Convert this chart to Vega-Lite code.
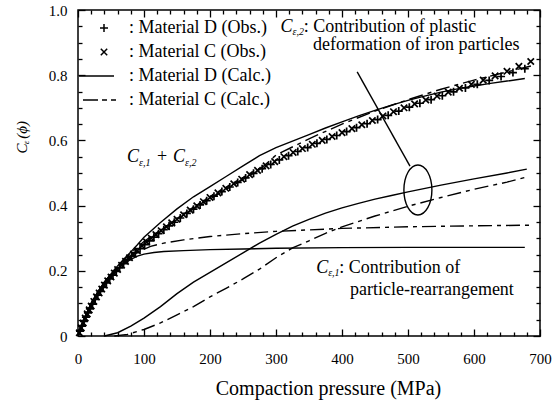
{
  "$schema": "https://vega.github.io/schema/vega-lite/v6.json",
  "width": 462,
  "height": 326,
  "autosize": {"type": "none"},
  "padding": {"left": 78, "top": 10, "right": 20, "bottom": 68},
  "background": "white",
  "config": {
    "view": {"stroke": "black", "strokeWidth": 1.5},
    "font": "'Liberation Serif', serif",
    "axis": {
      "grid": false,
      "domain": false,
      "labelFont": "'Liberation Serif', serif",
      "labelFontSize": 15,
      "labelColor": "black",
      "tickColor": "black",
      "tickWidth": 1.3,
      "titleFont": "'Liberation Serif', serif",
      "titleFontWeight": "normal",
      "titleColor": "black",
      "labelOverlap": false,
      "labelFlush": false,
      "labelBound": false
    },
    "legend": {"labelFont": "'Liberation Serif', serif"},
    "text": {"font": "'Liberation Serif', serif", "color": "black"}
  },
  "datasets": {
    "calc": [
      {"curve": "D total", "style": "solid", "p": 0, "c": 0},
      {"curve": "D total", "style": "solid", "p": 10, "c": 0.055},
      {"curve": "D total", "style": "solid", "p": 20, "c": 0.1},
      {"curve": "D total", "style": "solid", "p": 30, "c": 0.135},
      {"curve": "D total", "style": "solid", "p": 40, "c": 0.165},
      {"curve": "D total", "style": "solid", "p": 50, "c": 0.19},
      {"curve": "D total", "style": "solid", "p": 60, "c": 0.215},
      {"curve": "D total", "style": "solid", "p": 70, "c": 0.237},
      {"curve": "D total", "style": "solid", "p": 80, "c": 0.258},
      {"curve": "D total", "style": "solid", "p": 90, "c": 0.28},
      {"curve": "D total", "style": "solid", "p": 100, "c": 0.303},
      {"curve": "D total", "style": "solid", "p": 125, "c": 0.348},
      {"curve": "D total", "style": "solid", "p": 150, "c": 0.39},
      {"curve": "D total", "style": "solid", "p": 175, "c": 0.427},
      {"curve": "D total", "style": "solid", "p": 200, "c": 0.458},
      {"curve": "D total", "style": "solid", "p": 225, "c": 0.49},
      {"curve": "D total", "style": "solid", "p": 250, "c": 0.522},
      {"curve": "D total", "style": "solid", "p": 275, "c": 0.553},
      {"curve": "D total", "style": "solid", "p": 300, "c": 0.578},
      {"curve": "D total", "style": "solid", "p": 325, "c": 0.598},
      {"curve": "D total", "style": "solid", "p": 350, "c": 0.618},
      {"curve": "D total", "style": "solid", "p": 375, "c": 0.638},
      {"curve": "D total", "style": "solid", "p": 400, "c": 0.657},
      {"curve": "D total", "style": "solid", "p": 425, "c": 0.675},
      {"curve": "D total", "style": "solid", "p": 450, "c": 0.692},
      {"curve": "D total", "style": "solid", "p": 475, "c": 0.708},
      {"curve": "D total", "style": "solid", "p": 500, "c": 0.723},
      {"curve": "D total", "style": "solid", "p": 525, "c": 0.736},
      {"curve": "D total", "style": "solid", "p": 550, "c": 0.748},
      {"curve": "D total", "style": "solid", "p": 575, "c": 0.758},
      {"curve": "D total", "style": "solid", "p": 600, "c": 0.767},
      {"curve": "D total", "style": "solid", "p": 625, "c": 0.775},
      {"curve": "D total", "style": "solid", "p": 650, "c": 0.782},
      {"curve": "D total", "style": "solid", "p": 677, "c": 0.79},

      {"curve": "D C1", "style": "solid", "p": 0, "c": 0},
      {"curve": "D C1", "style": "solid", "p": 10, "c": 0.055},
      {"curve": "D C1", "style": "solid", "p": 20, "c": 0.1},
      {"curve": "D C1", "style": "solid", "p": 30, "c": 0.135},
      {"curve": "D C1", "style": "solid", "p": 40, "c": 0.165},
      {"curve": "D C1", "style": "solid", "p": 50, "c": 0.188},
      {"curve": "D C1", "style": "solid", "p": 60, "c": 0.207},
      {"curve": "D C1", "style": "solid", "p": 70, "c": 0.222},
      {"curve": "D C1", "style": "solid", "p": 80, "c": 0.235},
      {"curve": "D C1", "style": "solid", "p": 90, "c": 0.245},
      {"curve": "D C1", "style": "solid", "p": 100, "c": 0.251},
      {"curve": "D C1", "style": "solid", "p": 115, "c": 0.256},
      {"curve": "D C1", "style": "solid", "p": 130, "c": 0.259},
      {"curve": "D C1", "style": "solid", "p": 160, "c": 0.262},
      {"curve": "D C1", "style": "solid", "p": 200, "c": 0.265},
      {"curve": "D C1", "style": "solid", "p": 250, "c": 0.267},
      {"curve": "D C1", "style": "solid", "p": 300, "c": 0.269},
      {"curve": "D C1", "style": "solid", "p": 400, "c": 0.271},
      {"curve": "D C1", "style": "solid", "p": 500, "c": 0.272},
      {"curve": "D C1", "style": "solid", "p": 600, "c": 0.272},
      {"curve": "D C1", "style": "solid", "p": 677, "c": 0.272},

      {"curve": "D C2", "style": "solid", "p": 40, "c": 0},
      {"curve": "D C2", "style": "solid", "p": 60, "c": 0.01},
      {"curve": "D C2", "style": "solid", "p": 80, "c": 0.03},
      {"curve": "D C2", "style": "solid", "p": 100, "c": 0.055},
      {"curve": "D C2", "style": "solid", "p": 125, "c": 0.09},
      {"curve": "D C2", "style": "solid", "p": 150, "c": 0.13},
      {"curve": "D C2", "style": "solid", "p": 175, "c": 0.165},
      {"curve": "D C2", "style": "solid", "p": 200, "c": 0.195},
      {"curve": "D C2", "style": "solid", "p": 225, "c": 0.225},
      {"curve": "D C2", "style": "solid", "p": 250, "c": 0.255},
      {"curve": "D C2", "style": "solid", "p": 275, "c": 0.285},
      {"curve": "D C2", "style": "solid", "p": 300, "c": 0.312},
      {"curve": "D C2", "style": "solid", "p": 325, "c": 0.337},
      {"curve": "D C2", "style": "solid", "p": 350, "c": 0.358},
      {"curve": "D C2", "style": "solid", "p": 375, "c": 0.377},
      {"curve": "D C2", "style": "solid", "p": 400, "c": 0.393},
      {"curve": "D C2", "style": "solid", "p": 425, "c": 0.407},
      {"curve": "D C2", "style": "solid", "p": 450, "c": 0.42},
      {"curve": "D C2", "style": "solid", "p": 475, "c": 0.431},
      {"curve": "D C2", "style": "solid", "p": 500, "c": 0.442},
      {"curve": "D C2", "style": "solid", "p": 550, "c": 0.463},
      {"curve": "D C2", "style": "solid", "p": 600, "c": 0.482},
      {"curve": "D C2", "style": "solid", "p": 650, "c": 0.5},
      {"curve": "D C2", "style": "solid", "p": 680, "c": 0.512},

      {"curve": "C total", "style": "dash", "p": 0, "c": 0},
      {"curve": "C total", "style": "dash", "p": 10, "c": 0.055},
      {"curve": "C total", "style": "dash", "p": 20, "c": 0.1},
      {"curve": "C total", "style": "dash", "p": 40, "c": 0.165},
      {"curve": "C total", "style": "dash", "p": 60, "c": 0.215},
      {"curve": "C total", "style": "dash", "p": 80, "c": 0.255},
      {"curve": "C total", "style": "dash", "p": 100, "c": 0.29},
      {"curve": "C total", "style": "dash", "p": 125, "c": 0.325},
      {"curve": "C total", "style": "dash", "p": 150, "c": 0.358},
      {"curve": "C total", "style": "dash", "p": 175, "c": 0.39},
      {"curve": "C total", "style": "dash", "p": 200, "c": 0.42},
      {"curve": "C total", "style": "dash", "p": 225, "c": 0.45},
      {"curve": "C total", "style": "dash", "p": 250, "c": 0.48},
      {"curve": "C total", "style": "dash", "p": 275, "c": 0.51},
      {"curve": "C total", "style": "dash", "p": 300, "c": 0.555},
      {"curve": "C total", "style": "dash", "p": 350, "c": 0.605},
      {"curve": "C total", "style": "dash", "p": 400, "c": 0.65},
      {"curve": "C total", "style": "dash", "p": 450, "c": 0.69},
      {"curve": "C total", "style": "dash", "p": 500, "c": 0.725},
      {"curve": "C total", "style": "dash", "p": 550, "c": 0.757},
      {"curve": "C total", "style": "dash", "p": 600, "c": 0.785},
      {"curve": "C total", "style": "dash", "p": 650, "c": 0.81},
      {"curve": "C total", "style": "dash", "p": 690, "c": 0.83},

      {"curve": "C C1", "style": "dash", "p": 0, "c": 0},
      {"curve": "C C1", "style": "dash", "p": 10, "c": 0.055},
      {"curve": "C C1", "style": "dash", "p": 20, "c": 0.1},
      {"curve": "C C1", "style": "dash", "p": 40, "c": 0.165},
      {"curve": "C C1", "style": "dash", "p": 60, "c": 0.21},
      {"curve": "C C1", "style": "dash", "p": 80, "c": 0.245},
      {"curve": "C C1", "style": "dash", "p": 95, "c": 0.262},
      {"curve": "C C1", "style": "dash", "p": 110, "c": 0.275},
      {"curve": "C C1", "style": "dash", "p": 130, "c": 0.285},
      {"curve": "C C1", "style": "dash", "p": 160, "c": 0.295},
      {"curve": "C C1", "style": "dash", "p": 200, "c": 0.305},
      {"curve": "C C1", "style": "dash", "p": 250, "c": 0.314},
      {"curve": "C C1", "style": "dash", "p": 300, "c": 0.321},
      {"curve": "C C1", "style": "dash", "p": 400, "c": 0.33},
      {"curve": "C C1", "style": "dash", "p": 500, "c": 0.335},
      {"curve": "C C1", "style": "dash", "p": 600, "c": 0.338},
      {"curve": "C C1", "style": "dash", "p": 690, "c": 0.34},

      {"curve": "C C2", "style": "dash", "p": 55, "c": 0},
      {"curve": "C C2", "style": "dash", "p": 75, "c": 0.005},
      {"curve": "C C2", "style": "dash", "p": 100, "c": 0.02},
      {"curve": "C C2", "style": "dash", "p": 125, "c": 0.04},
      {"curve": "C C2", "style": "dash", "p": 150, "c": 0.065},
      {"curve": "C C2", "style": "dash", "p": 175, "c": 0.09},
      {"curve": "C C2", "style": "dash", "p": 200, "c": 0.12},
      {"curve": "C C2", "style": "dash", "p": 225, "c": 0.147},
      {"curve": "C C2", "style": "dash", "p": 250, "c": 0.175},
      {"curve": "C C2", "style": "dash", "p": 275, "c": 0.205},
      {"curve": "C C2", "style": "dash", "p": 300, "c": 0.24},
      {"curve": "C C2", "style": "dash", "p": 325, "c": 0.27},
      {"curve": "C C2", "style": "dash", "p": 350, "c": 0.292},
      {"curve": "C C2", "style": "dash", "p": 375, "c": 0.315},
      {"curve": "C C2", "style": "dash", "p": 400, "c": 0.335},
      {"curve": "C C2", "style": "dash", "p": 450, "c": 0.368},
      {"curve": "C C2", "style": "dash", "p": 500, "c": 0.398},
      {"curve": "C C2", "style": "dash", "p": 550, "c": 0.425},
      {"curve": "C C2", "style": "dash", "p": 600, "c": 0.45},
      {"curve": "C C2", "style": "dash", "p": 650, "c": 0.472},
      {"curve": "C C2", "style": "dash", "p": 680, "c": 0.488}
    ],
    "obs": [
      {"s": "Material C (Obs.)", "p": 2, "c": 0.01},
      {"s": "Material C (Obs.)", "p": 5, "c": 0.025},
      {"s": "Material C (Obs.)", "p": 8, "c": 0.04},
      {"s": "Material C (Obs.)", "p": 11, "c": 0.055},
      {"s": "Material C (Obs.)", "p": 14, "c": 0.068},
      {"s": "Material C (Obs.)", "p": 17, "c": 0.08},
      {"s": "Material C (Obs.)", "p": 20, "c": 0.092},
      {"s": "Material C (Obs.)", "p": 24, "c": 0.106},
      {"s": "Material C (Obs.)", "p": 28, "c": 0.12},
      {"s": "Material C (Obs.)", "p": 32, "c": 0.132},
      {"s": "Material C (Obs.)", "p": 36, "c": 0.144},
      {"s": "Material C (Obs.)", "p": 40, "c": 0.156},
      {"s": "Material C (Obs.)", "p": 45, "c": 0.169},
      {"s": "Material C (Obs.)", "p": 50, "c": 0.181},
      {"s": "Material C (Obs.)", "p": 55, "c": 0.193},
      {"s": "Material C (Obs.)", "p": 60, "c": 0.204},
      {"s": "Material C (Obs.)", "p": 66, "c": 0.217},
      {"s": "Material C (Obs.)", "p": 72, "c": 0.229},
      {"s": "Material C (Obs.)", "p": 78, "c": 0.24},
      {"s": "Material C (Obs.)", "p": 84, "c": 0.251},
      {"s": "Material C (Obs.)", "p": 90, "c": 0.262},
      {"s": "Material C (Obs.)", "p": 97, "c": 0.276},
      {"s": "Material C (Obs.)", "p": 104, "c": 0.288},
      {"s": "Material C (Obs.)", "p": 111, "c": 0.3},
      {"s": "Material C (Obs.)", "p": 118, "c": 0.311},
      {"s": "Material C (Obs.)", "p": 126, "c": 0.323},
      {"s": "Material C (Obs.)", "p": 134, "c": 0.335},
      {"s": "Material C (Obs.)", "p": 142, "c": 0.347},
      {"s": "Material C (Obs.)", "p": 150, "c": 0.358},
      {"s": "Material C (Obs.)", "p": 160, "c": 0.372},
      {"s": "Material C (Obs.)", "p": 170, "c": 0.386},
      {"s": "Material C (Obs.)", "p": 180, "c": 0.399},
      {"s": "Material C (Obs.)", "p": 190, "c": 0.412},
      {"s": "Material C (Obs.)", "p": 200, "c": 0.425},
      {"s": "Material C (Obs.)", "p": 212, "c": 0.439},
      {"s": "Material C (Obs.)", "p": 224, "c": 0.453},
      {"s": "Material C (Obs.)", "p": 236, "c": 0.467},
      {"s": "Material C (Obs.)", "p": 248, "c": 0.481},
      {"s": "Material C (Obs.)", "p": 260, "c": 0.495},
      {"s": "Material C (Obs.)", "p": 272, "c": 0.508},
      {"s": "Material C (Obs.)", "p": 285, "c": 0.522},
      {"s": "Material C (Obs.)", "p": 298, "c": 0.535},
      {"s": "Material C (Obs.)", "p": 312, "c": 0.55},
      {"s": "Material C (Obs.)", "p": 326, "c": 0.563},
      {"s": "Material C (Obs.)", "p": 340, "c": 0.575},
      {"s": "Material C (Obs.)", "p": 355, "c": 0.588},
      {"s": "Material C (Obs.)", "p": 370, "c": 0.6},
      {"s": "Material C (Obs.)", "p": 385, "c": 0.612},
      {"s": "Material C (Obs.)", "p": 400, "c": 0.624},
      {"s": "Material C (Obs.)", "p": 415, "c": 0.636},
      {"s": "Material C (Obs.)", "p": 430, "c": 0.648},
      {"s": "Material C (Obs.)", "p": 446, "c": 0.661},
      {"s": "Material C (Obs.)", "p": 462, "c": 0.675},
      {"s": "Material C (Obs.)", "p": 478, "c": 0.688},
      {"s": "Material C (Obs.)", "p": 494, "c": 0.7},
      {"s": "Material C (Obs.)", "p": 510, "c": 0.712},
      {"s": "Material C (Obs.)", "p": 527, "c": 0.724},
      {"s": "Material C (Obs.)", "p": 544, "c": 0.736},
      {"s": "Material C (Obs.)", "p": 561, "c": 0.748},
      {"s": "Material C (Obs.)", "p": 578, "c": 0.76},
      {"s": "Material C (Obs.)", "p": 596, "c": 0.772},
      {"s": "Material C (Obs.)", "p": 614, "c": 0.785},
      {"s": "Material C (Obs.)", "p": 632, "c": 0.798},
      {"s": "Material C (Obs.)", "p": 650, "c": 0.812},
      {"s": "Material C (Obs.)", "p": 668, "c": 0.827},
      {"s": "Material C (Obs.)", "p": 686, "c": 0.842},

      {"s": "Material D (Obs.)", "p": 3, "c": 0.015},
      {"s": "Material D (Obs.)", "p": 6, "c": 0.03},
      {"s": "Material D (Obs.)", "p": 9, "c": 0.045},
      {"s": "Material D (Obs.)", "p": 12, "c": 0.058},
      {"s": "Material D (Obs.)", "p": 15, "c": 0.071},
      {"s": "Material D (Obs.)", "p": 18, "c": 0.083},
      {"s": "Material D (Obs.)", "p": 22, "c": 0.098},
      {"s": "Material D (Obs.)", "p": 26, "c": 0.112},
      {"s": "Material D (Obs.)", "p": 30, "c": 0.125},
      {"s": "Material D (Obs.)", "p": 34, "c": 0.137},
      {"s": "Material D (Obs.)", "p": 38, "c": 0.149},
      {"s": "Material D (Obs.)", "p": 43, "c": 0.163},
      {"s": "Material D (Obs.)", "p": 48, "c": 0.175},
      {"s": "Material D (Obs.)", "p": 53, "c": 0.187},
      {"s": "Material D (Obs.)", "p": 58, "c": 0.198},
      {"s": "Material D (Obs.)", "p": 63, "c": 0.209},
      {"s": "Material D (Obs.)", "p": 69, "c": 0.222},
      {"s": "Material D (Obs.)", "p": 75, "c": 0.234},
      {"s": "Material D (Obs.)", "p": 81, "c": 0.245},
      {"s": "Material D (Obs.)", "p": 87, "c": 0.256},
      {"s": "Material D (Obs.)", "p": 94, "c": 0.268},
      {"s": "Material D (Obs.)", "p": 101, "c": 0.28},
      {"s": "Material D (Obs.)", "p": 108, "c": 0.292},
      {"s": "Material D (Obs.)", "p": 115, "c": 0.303},
      {"s": "Material D (Obs.)", "p": 122, "c": 0.314},
      {"s": "Material D (Obs.)", "p": 130, "c": 0.326},
      {"s": "Material D (Obs.)", "p": 138, "c": 0.338},
      {"s": "Material D (Obs.)", "p": 146, "c": 0.349},
      {"s": "Material D (Obs.)", "p": 155, "c": 0.362},
      {"s": "Material D (Obs.)", "p": 165, "c": 0.376},
      {"s": "Material D (Obs.)", "p": 175, "c": 0.389},
      {"s": "Material D (Obs.)", "p": 185, "c": 0.402},
      {"s": "Material D (Obs.)", "p": 195, "c": 0.415},
      {"s": "Material D (Obs.)", "p": 206, "c": 0.429},
      {"s": "Material D (Obs.)", "p": 218, "c": 0.443},
      {"s": "Material D (Obs.)", "p": 230, "c": 0.457},
      {"s": "Material D (Obs.)", "p": 242, "c": 0.471},
      {"s": "Material D (Obs.)", "p": 254, "c": 0.485},
      {"s": "Material D (Obs.)", "p": 266, "c": 0.499},
      {"s": "Material D (Obs.)", "p": 279, "c": 0.513},
      {"s": "Material D (Obs.)", "p": 292, "c": 0.526},
      {"s": "Material D (Obs.)", "p": 305, "c": 0.54},
      {"s": "Material D (Obs.)", "p": 319, "c": 0.553},
      {"s": "Material D (Obs.)", "p": 333, "c": 0.566},
      {"s": "Material D (Obs.)", "p": 348, "c": 0.578},
      {"s": "Material D (Obs.)", "p": 362, "c": 0.591},
      {"s": "Material D (Obs.)", "p": 377, "c": 0.603},
      {"s": "Material D (Obs.)", "p": 392, "c": 0.615},
      {"s": "Material D (Obs.)", "p": 407, "c": 0.627},
      {"s": "Material D (Obs.)", "p": 422, "c": 0.639},
      {"s": "Material D (Obs.)", "p": 438, "c": 0.651},
      {"s": "Material D (Obs.)", "p": 454, "c": 0.664},
      {"s": "Material D (Obs.)", "p": 470, "c": 0.677},
      {"s": "Material D (Obs.)", "p": 486, "c": 0.69},
      {"s": "Material D (Obs.)", "p": 502, "c": 0.702},
      {"s": "Material D (Obs.)", "p": 518, "c": 0.714},
      {"s": "Material D (Obs.)", "p": 535, "c": 0.725},
      {"s": "Material D (Obs.)", "p": 552, "c": 0.737},
      {"s": "Material D (Obs.)", "p": 569, "c": 0.749},
      {"s": "Material D (Obs.)", "p": 587, "c": 0.761},
      {"s": "Material D (Obs.)", "p": 605, "c": 0.772},
      {"s": "Material D (Obs.)", "p": 623, "c": 0.784},
      {"s": "Material D (Obs.)", "p": 641, "c": 0.796},
      {"s": "Material D (Obs.)", "p": 659, "c": 0.808},
      {"s": "Material D (Obs.)", "p": 677, "c": 0.82}
    ],
    "labels": [
      {"k": "it", "t": "C", "p": 74.2, "c": 0.549},
      {"k": "sub", "t": "ε,1", "p": 92.4, "c": 0.532},
      {"k": "rm", "t": "+", "p": 119.7, "c": 0.549},
      {"k": "it", "t": "C", "p": 143.9, "c": 0.549},
      {"k": "sub", "t": "ε,2", "p": 162.1, "c": 0.532},
      {"k": "it", "t": "C", "p": 307, "c": 0.948},
      {"k": "sub", "t": "ε,2", "p": 325, "c": 0.932},
      {"k": "rm", "t": ": Contribution of plastic", "p": 342, "c": 0.948},
      {"k": "rm", "t": "deformation of iron particles", "p": 356.1, "c": 0.893},
      {"k": "it", "t": "C", "p": 361, "c": 0.209},
      {"k": "sub", "t": "ε,1", "p": 379, "c": 0.194},
      {"k": "rm", "t": ": Contribution of", "p": 396, "c": 0.209},
      {"k": "rm", "t": "particle-rearrangement", "p": 412.1, "c": 0.141},
      {"k": "yt", "t": "C", "p": -85, "c": 0.56},
      {"k": "ysub", "t": "ε", "p": -79, "c": 0.588},
      {"k": "yt", "t": "(ϕ)", "p": -85, "c": 0.605}
    ],
    "leader": [{"p": 423, "c": 0.81, "p2": 503, "c2": 0.521}],
    "circle": [{"p": 515, "c": 0.448}]
  },
  "layer": [
    {
      "data": {"name": "calc"},
      "transform": [{"filter": "datum.style === 'solid'"}],
      "mark": {"type": "line", "color": "black", "strokeWidth": 1.4},
      "encoding": {
        "x": {
          "field": "p", "type": "quantitative",
          "scale": {"domain": [0, 700], "nice": false, "zero": false},
          "axis": {
            "orient": "bottom",
            "values": [0,20,40,60,80,100,120,140,160,180,200,220,240,260,280,300,320,340,360,380,400,420,440,460,480,500,520,540,560,580,600,620,640,660,680,700],
            "labelExpr": "datum.value % 100 === 0 ? '' + datum.value : ''",
            "tickSize": {"condition": {"test": "datum.value % 100 === 0", "value": -7}, "value": -4},
            "labelPadding": 22,
            "title": "Compaction pressure (MPa)",
            "titleFontSize": 20,
            "titleX": 250,
            "titleY": 58,
            "titleBaseline": "alphabetic"
          }
        },
        "y": {
          "field": "c", "type": "quantitative",
          "scale": {"domain": [0, 1], "nice": false, "zero": false},
          "axis": {
            "orient": "left",
            "values": [0,0.05,0.1,0.15,0.2,0.25,0.3,0.35,0.4,0.45,0.5,0.55,0.6,0.65,0.7,0.75,0.8,0.85,0.9,0.95,1],
            "labelExpr": "round(datum.value * 100) % 20 === 0 ? (datum.value === 0 ? '0' : format(datum.value, '.1f')) : ''",
            "tickSize": {"condition": {"test": "round(datum.value * 100) % 20 === 0", "value": -7}, "value": -4},
            "labelPadding": 18,
            "title": null
          }
        },
        "detail": {"field": "curve", "type": "nominal"}
      }
    },
    {
      "data": {"name": "calc"},
      "transform": [{"filter": "datum.style === 'dash'"}],
      "mark": {"type": "line", "color": "black", "strokeWidth": 1.4, "strokeDash": [14, 5, 4, 5]},
      "encoding": {
        "x": {
          "field": "p", "type": "quantitative",
          "scale": {"domain": [0, 700], "nice": false, "zero": false},
          "axis": {
            "orient": "top",
            "values": [0,20,40,60,80,100,120,140,160,180,200,220,240,260,280,300,320,340,360,380,400,420,440,460,480,500,520,540,560,580,600,620,640,660,680,700],
            "labels": false,
            "tickSize": {"condition": {"test": "datum.value % 100 === 0", "value": -7}, "value": -4},
            "title": null
          }
        },
        "y": {
          "field": "c", "type": "quantitative",
          "scale": {"domain": [0, 1], "nice": false, "zero": false},
          "axis": {
            "orient": "right",
            "values": [0,0.05,0.1,0.15,0.2,0.25,0.3,0.35,0.4,0.45,0.5,0.55,0.6,0.65,0.7,0.75,0.8,0.85,0.9,0.95,1],
            "labels": false,
            "tickSize": {"condition": {"test": "round(datum.value * 100) % 20 === 0", "value": -7}, "value": -4},
            "title": null
          }
        },
        "detail": {"field": "curve", "type": "nominal"}
      }
    },
    {
      "data": {"name": "obs"},
      "mark": {"type": "point", "filled": false, "color": "black", "strokeWidth": 1.7, "size": 400, "opacity": 1},
      "encoding": {
        "x": {"field": "p", "type": "quantitative", "scale": {"domain": [0, 700], "nice": false, "zero": false}, "axis": null},
        "y": {"field": "c", "type": "quantitative", "scale": {"domain": [0, 1], "nice": false, "zero": false}, "axis": null},
        "shape": {
          "field": "s", "type": "nominal",
          "scale": {
            "domain": ["Material D (Obs.)", "Material C (Obs.)", "Material D (Calc.)", "Material C (Calc.)"],
            "range": [
              "M-0.4,0L0.4,0M0,-0.4L0,0.4",
              "M-0.32,-0.32L0.32,0.32M-0.32,0.32L0.32,-0.32",
              "M-2.5,0L1,0",
              "M-2.1,0L-0.6,0M-0.2,0L0.3,0M0.7,0L1.2,0"
            ]
          },
          "legend": {
            "orient": "none",
            "legendX": 15,
            "legendY": 7,
            "title": null,
            "padding": 0,
            "labelExpr": "': ' + datum.label",
            "labelFont": "'Liberation Serif', serif",
            "labelFontSize": 18,
            "labelColor": "black",
            "labelLimit": 300,
            "symbolSize": 400,
            "symbolStrokeColor": "black",
            "symbolFillColor": "transparent",
            "symbolStrokeWidth": 1.5,
            "symbolOpacity": 1,
            "rowPadding": 4,
            "labelOffset": 14
          }
        }
      }
    },
    {
      "data": {"name": "labels"},
      "transform": [{"filter": "datum.k === 'it'"}],
      "mark": {"type": "text", "align": "left", "baseline": "middle", "fontSize": 18, "fontStyle": "italic", "font": "'Liberation Serif', serif", "color": "black"},
      "encoding": {
        "x": {"field": "p", "type": "quantitative", "scale": {"domain": [0, 700], "nice": false, "zero": false}, "axis": null},
        "y": {"field": "c", "type": "quantitative", "scale": {"domain": [0, 1], "nice": false, "zero": false}, "axis": null},
        "text": {"field": "t"}
      }
    },
    {
      "data": {"name": "labels"},
      "transform": [{"filter": "datum.k === 'sub'"}],
      "mark": {"type": "text", "align": "left", "baseline": "middle", "fontSize": 10, "fontStyle": "italic", "font": "'Liberation Serif', serif", "color": "black"},
      "encoding": {
        "x": {"field": "p", "type": "quantitative", "scale": {"domain": [0, 700], "nice": false, "zero": false}, "axis": null},
        "y": {"field": "c", "type": "quantitative", "scale": {"domain": [0, 1], "nice": false, "zero": false}, "axis": null},
        "text": {"field": "t"}
      }
    },
    {
      "data": {"name": "labels"},
      "transform": [{"filter": "datum.k === 'rm'"}],
      "mark": {"type": "text", "align": "left", "baseline": "middle", "fontSize": 18, "font": "'Liberation Serif', serif", "color": "black"},
      "encoding": {
        "x": {"field": "p", "type": "quantitative", "scale": {"domain": [0, 700], "nice": false, "zero": false}, "axis": null},
        "y": {"field": "c", "type": "quantitative", "scale": {"domain": [0, 1], "nice": false, "zero": false}, "axis": null},
        "text": {"field": "t"}
      }
    },
    {
      "data": {"name": "labels"},
      "transform": [{"filter": "datum.k === 'yt'"}],
      "mark": {"type": "text", "align": "left", "baseline": "middle", "angle": 270, "fontSize": 15, "fontStyle": "italic", "font": "'Liberation Serif', serif", "color": "black"},
      "encoding": {
        "x": {"field": "p", "type": "quantitative", "scale": {"domain": [0, 700], "nice": false, "zero": false}, "axis": null},
        "y": {"field": "c", "type": "quantitative", "scale": {"domain": [0, 1], "nice": false, "zero": false}, "axis": null},
        "text": {"field": "t"}
      }
    },
    {
      "data": {"name": "labels"},
      "transform": [{"filter": "datum.k === 'ysub'"}],
      "mark": {"type": "text", "align": "left", "baseline": "middle", "angle": 270, "fontSize": 9, "fontStyle": "italic", "font": "'Liberation Serif', serif", "color": "black"},
      "encoding": {
        "x": {"field": "p", "type": "quantitative", "scale": {"domain": [0, 700], "nice": false, "zero": false}, "axis": null},
        "y": {"field": "c", "type": "quantitative", "scale": {"domain": [0, 1], "nice": false, "zero": false}, "axis": null},
        "text": {"field": "t"}
      }
    },
    {
      "data": {"name": "leader"},
      "mark": {"type": "rule", "color": "black", "strokeWidth": 1.4},
      "encoding": {
        "x": {"field": "p", "type": "quantitative", "scale": {"domain": [0, 700], "nice": false, "zero": false}, "axis": null},
        "y": {"field": "c", "type": "quantitative", "scale": {"domain": [0, 1], "nice": false, "zero": false}, "axis": null},
        "x2": {"field": "p2"},
        "y2": {"field": "c2"}
      }
    },
    {
      "data": {"name": "circle"},
      "mark": {"type": "point", "filled": false, "color": "black", "strokeWidth": 1.4, "opacity": 1, "size": 2500, "shape": "M0,-1A0.56,1 0 1,1 0,1A0.56,1 0 1,1 0,-1Z"},
      "encoding": {
        "x": {"field": "p", "type": "quantitative", "scale": {"domain": [0, 700], "nice": false, "zero": false}, "axis": null},
        "y": {"field": "c", "type": "quantitative", "scale": {"domain": [0, 1], "nice": false, "zero": false}, "axis": null}
      }
    }
  ],
  "resolve": {"axis": {"x": "independent", "y": "independent"}}
}
